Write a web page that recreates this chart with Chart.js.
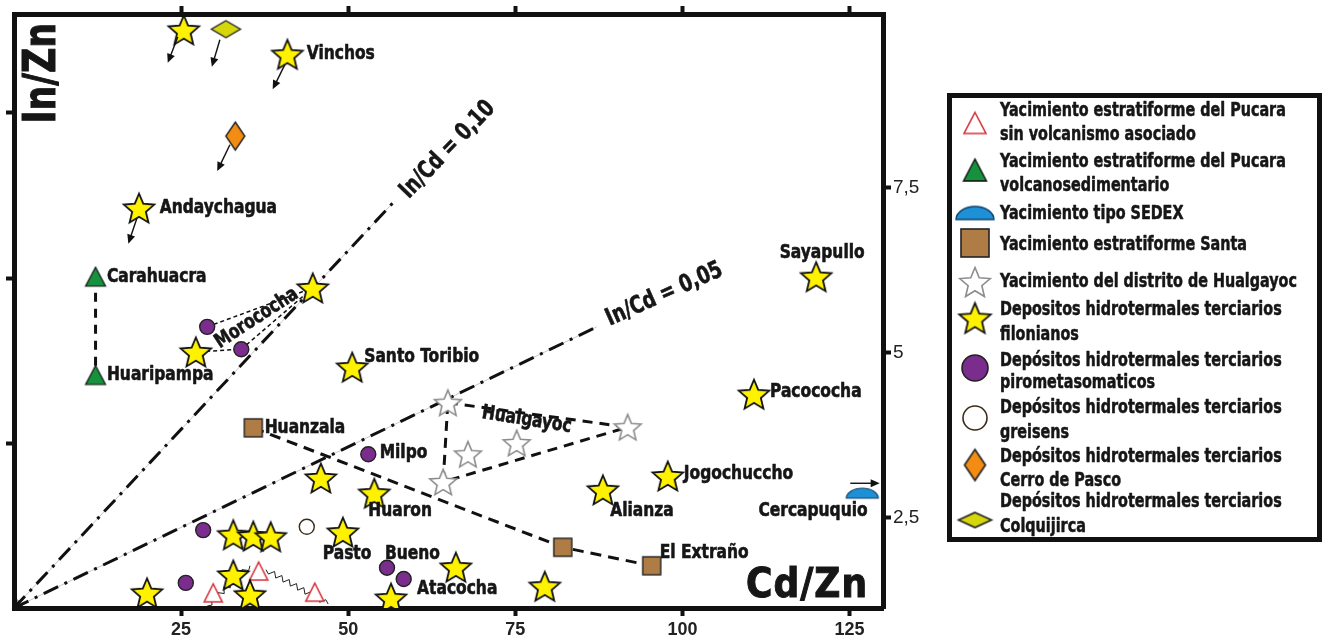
<!DOCTYPE html>
<html><head><meta charset="utf-8">
<script src="https://cdn.jsdelivr.net/npm/chart.js@4"></script>
<style>html,body{margin:0;padding:0;background:#fff}#wrap{width:1325px;height:639px;position:relative}</style>
</head><body><div id="wrap"><canvas id="c" width="1325" height="639"></canvas></div>
<script>
// ---------------- data ----------------
const xTicks = [25, 50, 75, 100, 125];
const yTicksLeft = [2.5, 5, 7.5];
const yTicksRight = [2.5, 5, 7.5];
const yRightLabels = {2.5: '2,5', 5: '5', 7.5: '7,5'};

// Depositos hidrotermales terciarios filonianos
const filonianos = [
  {x:25.4,y:8.76},{x:40.9,y:8.39},{x:18.7,y:6.06},{x:44.7,y:4.85},{x:27.2,y:3.88},
  {x:50.6,y:3.65},{x:45.9,y:1.97},{x:53.9,y:1.74},{x:32.8,y:1.11},{x:35.8,y:1.09},
  {x:38.4,y:1.08},{x:49.2,y:1.15},{x:32.8,y:0.50},{x:19.9,y:0.23},{x:35.3,y:0.20},
  {x:56.4,y:0.15},{x:66.1,y:0.62},{x:79.4,y:0.33},{x:88.1,y:1.79},{x:97.8,y:2.00},
  {x:110.7,y:3.24},{x:120.0,y:5.02}
];
// pirometasomaticos
const pirometasomaticos = [
  {x:28.9,y:4.26},{x:34.0,y:3.92},{x:53.0,y:2.33},{x:28.3,y:1.18},{x:25.7,y:0.38},{x:55.8,y:0.61},{x:58.3,y:0.44}
];
const greisens = [{x:43.8,y:1.23}];
const pucaraSinVolc = [{x:29.8,y:0.23},{x:36.6,y:0.56},{x:45.0,y:0.24}];
const pucaraVolcano = [{x:12.2,y:5.02},{x:12.2,y:3.53}];
const sedex = [{x:126.9,y:1.74}];
const santa = [{x:35.8,y:2.73},{x:82.1,y:0.92},{x:95.4,y:0.64}];
const hualgayoc = [{x:64.9,y:3.11},{x:91.8,y:2.74},{x:75.2,y:2.50},{x:67.9,y:2.33},{x:64.2,y:1.91}];
const cerroDePasco = [{x:33.1,y:7.15}];
const colquijirca = [{x:31.7,y:8.77}];

// reference lines In/Cd (from origin to the label)
const inCd010 = [{x:0,y:0},{x:56.7,y:6.14}];
const inCd005 = [{x:0,y:0},{x:87.2,y:4.26}];

// connecting lines
const volcanoLink = [pucaraVolcano[0], pucaraVolcano[1]];
const santaLink = [santa[0], santa[1], santa[2]];
const hualgayocLink = [hualgayoc[0], hualgayoc[1], hualgayoc[4], hualgayoc[0]];
const morocochaLink = [pirometasomaticos[0], filonianos[3], pirometasomaticos[1], filonianos[4]];
const zigzagLinks = [[{x:28.9,y:0.03},{x:35.3,y:0.64}],[{x:37.7,y:0.58},{x:47.0,y:0.06}]];

// upper-limit arrows (data units)
const limitArrows = [
  {from:{x:24.5,y:8.65}, to:{x:23.0,y:8.26}},
  {from:{x:30.8,y:8.61}, to:{x:29.6,y:8.20}},
  {from:{x:40.5,y:8.23}, to:{x:38.7,y:7.86}},
  {from:{x:32.3,y:7.02}, to:{x:30.4,y:6.62}},
  {from:{x:18.4,y:5.91}, to:{x:17.1,y:5.52}},
  {from:{x:125.1,y:1.89}, to:{x:129.5,y:1.89}}
];

// place-name labels anchored in data units
const placeLabels = [
  {t:'Vinchos', x:43.8, y:8.39, a:'left'},
  {t:'Andaychagua', x:21.8, y:6.06, a:'left'},
  {t:'Carahuacra', x:13.9, y:5.02, a:'left'},
  {t:'Huaripampa', x:13.9, y:3.53, a:'left'},
  {t:'Santo Toribio', x:52.4, y:3.80, a:'left'},
  {t:'Huanzala', x:37.5, y:2.73, a:'left'},
  {t:'Milpo', x:54.7, y:2.35, a:'left'},
  {t:'Huaron', x:53.0, y:1.47, a:'left'},
  {t:'Pasto', x:46.2, y:0.82, a:'left'},
  {t:'Bueno', x:55.5, y:0.82, a:'left'},
  {t:'Atacocha', x:60.3, y:0.29, a:'left'},
  {t:'Alianza', x:89.2, y:1.47, a:'left'},
  {t:'Jogochuccho', x:100.2, y:2.03, a:'left'},
  {t:'Pacococha', x:113.1, y:3.27, a:'left'},
  {t:'Sayapullo', x:120.9, y:5.38, a:'center'},
  {t:'Cercapuquio', x:127.7, y:1.48, a:'right'},
  {t:'El Extraño', x:96.6, y:0.83, a:'left'},
  {t:'Morococha', x:36.3, y:4.39, a:'center', rot:-33},
  {t:'Hualgayoc', x:76.7, y:2.85, a:'center', rot:9}
];
const lineLabels = [
  {t:'In/Cd = 0,10', x:64.9, y:6.94, rot:-46},
  {t:'In/Cd = 0,05', x:97.3, y:4.75, rot:-24}
];

const legendItems = [
  {icon:'triRed', lines:['Yacimiento estratiforme del Pucara','sin volcanismo asociado']},
  {icon:'triGreen', lines:['Yacimiento estratiforme del Pucara','volcanosedimentario']},
  {icon:'sedex', lines:['Yacimiento tipo SEDEX']},
  {icon:'square', lines:['Yacimiento estratiforme Santa']},
  {icon:'grayStar', lines:['Yacimiento del distrito de Hualgayoc']},
  {icon:'star', lines:['Depositos hidrotermales terciarios','filonianos']},
  {icon:'purple', lines:['Depósitos hidrotermales terciarios','pirometasomaticos']},
  {icon:'white', lines:['Depósitos hidrotermales terciarios','greisens']},
  {icon:'orange', lines:['Depósitos hidrotermales terciarios','Cerro de Pasco']},
  {icon:'yg', lines:['Depósitos hidrotermales terciarios','Colquijirca']}
];

// ---------------- styles ----------------
const NARROW = '"Liberation Sans Narrow","DejaVu Sans Condensed","Arial Narrow",sans-serif';
const C = {
  yellow:'#fff200', purple:'#7b2d8e', green:'#17913e', brown:'#b07c45', blue:'#1e90d6',
  orange:'#f28c12', yg:'#d6d60c', red:'#d8323c', ink:'#161616'
};

function mk(w, h, draw){ const c=document.createElement('canvas'); c.width=w; c.height=h; draw(c.getContext('2d'), w, h); return c; }
function starPath(g, cx, cy, R, ri){ g.beginPath(); for(let i=0;i<10;i++){const r=i%2?ri:R; const a=-Math.PI/2+i*Math.PI/5; g.lineTo(cx+r*Math.cos(a), cy+r*Math.sin(a));} g.closePath(); }
function starImg(R, fill, stroke, lw){ const s=Math.ceil(2*R+lw+4); return mk(s,s,(g,w,h)=>{ starPath(g,w/2,h/2+0.095*R,R,R*0.45); g.fillStyle=fill; g.fill(); g.lineJoin='miter'; g.lineWidth=lw; g.strokeStyle=stroke; g.stroke(); }); }
function triImg(tw, th, fill, stroke, lw){ return mk(Math.ceil(tw+lw+4), Math.ceil(th+lw+4),(g,w,h)=>{ g.beginPath(); g.moveTo(w/2,h/2-th/2); g.lineTo(w/2+tw/2,h/2+th/2); g.lineTo(w/2-tw/2,h/2+th/2); g.closePath(); if(fill){g.fillStyle=fill; g.fill();} g.lineWidth=lw; g.strokeStyle=stroke; g.stroke(); }); }
function diaImg(dw, dh, fill, stroke, lw){ return mk(Math.ceil(dw+lw+4), Math.ceil(dh+lw+4),(g,w,h)=>{ g.beginPath(); g.moveTo(w/2,h/2-dh/2); g.lineTo(w/2+dw/2,h/2); g.lineTo(w/2,h/2+dh/2); g.lineTo(w/2-dw/2,h/2); g.closePath(); g.fillStyle=fill; g.fill(); g.lineWidth=lw; g.strokeStyle=stroke; g.stroke(); }); }
function sqImg(s, fill, stroke, lw){ return mk(Math.ceil(s+lw+4), Math.ceil(s+lw+4),(g,w,h)=>{ g.fillStyle=fill; g.fillRect(w/2-s/2,h/2-s/2,s,s); g.lineWidth=lw; g.strokeStyle=stroke; g.strokeRect(w/2-s/2,h/2-s/2,s,s); }); }
function domeImg(dw, dh, fill, stroke, lw){ return mk(Math.ceil(dw+lw+4), Math.ceil(dh+lw+4),(g,w,h)=>{ g.beginPath(); g.ellipse(w/2,h/2+dh/2,dw/2,dh,0,Math.PI,2*Math.PI); g.closePath(); g.fillStyle=fill; g.fill(); g.lineWidth=lw; g.strokeStyle=stroke; g.stroke(); }); }
function circImg(r, fill, stroke, lw){ const s=Math.ceil(2*r+lw+4); return mk(s,s,(g,w,h)=>{ g.beginPath(); g.arc(w/2,h/2,r,0,2*Math.PI); g.fillStyle=fill; g.fill(); g.lineWidth=lw; g.strokeStyle=stroke; g.stroke(); }); }

const IMG = {
  star: starImg(16, C.yellow, '#111', 1.8),
  grayStar: starImg(14, '#fff', '#8c8c8c', 1.6),
  triRed: triImg(18, 18, '#fff', C.red, 1.6),
  triGreen: triImg(20, 19, C.green, '#111', 1.2),
  square: sqImg(18, C.brown, '#222', 1.4),
  sedex: domeImg(32, 10, C.blue, '#0d3f6b', 1.2),
  orange: diaImg(19, 28, C.orange, '#222', 1.4),
  yg: diaImg(29, 17, C.yg, '#222', 1.4)
};
const LEG = {
  triRed: triImg(22, 21, null, C.red, 1.6),
  triGreen: triImg(23, 22, C.green, '#111', 1.4),
  sedex: domeImg(38, 13, C.blue, '#0d3f6b', 1.4),
  square: sqImg(28, C.brown, '#222', 1.6),
  grayStar: starImg(16, '#fff', '#8c8c8c', 1.6),
  star: starImg(16.5, C.yellow, '#111', 1.8),
  purple: circImg(13, C.purple, '#222', 1.6),
  white: circImg(12, '#fff', '#3a2a1a', 1.6),
  orange: diaImg(21, 31, C.orange, '#222', 1.6),
  yg: diaImg(33, 15, C.yg, '#222', 1.6)
};
const LEG_Y = [[111,135,123],[162,186,170],[214,null,213],[245,null,243],[282,null,282],[310,335,318],[361,383,368],[408,433,418],[457,481,465],[502,527,520]];

function marker(label, data, img, extra){ return Object.assign({label, data, pointStyle:img, pointRadius:10, showLine:false, order:0, xAxisID:'x', yAxisID:'y'}, extra||{}); }
function link(data, dash, width, color, order){ return {label:'', data, showLine:true, pointRadius:0, borderColor:color||'#111', borderWidth:width, borderDash:dash, fill:false, order:order||5, xAxisID:'x', yAxisID:'y', tension:0}; }

const datasets = [
  marker('Depositos hidrotermales terciarios filonianos', filonianos, IMG.star),
  marker('Yacimiento estratiforme del Pucara volcanosedimentario', pucaraVolcano, IMG.triGreen, {order:1}),
  marker('Yacimiento estratiforme del Pucara sin volcanismo asociado', pucaraSinVolc, IMG.triRed, {order:2}),
  marker('Depósitos hidrotermales terciarios pirometasomaticos', pirometasomaticos, 'circle', {pointRadius:7.5, backgroundColor:C.purple, borderColor:'#222', borderWidth:1.4, order:1}),
  marker('Depósitos hidrotermales terciarios greisens', greisens, 'circle', {pointRadius:7.5, backgroundColor:'#fff', borderColor:'#3a2a1a', borderWidth:1.4, order:1}),
  marker('Yacimiento tipo SEDEX', sedex, IMG.sedex, {order:1}),
  marker('Yacimiento estratiforme Santa', santa, IMG.square, {order:1}),
  marker('Yacimiento del distrito de Hualgayoc', hualgayoc, IMG.grayStar, {order:1}),
  marker('Depósitos hidrotermales terciarios Cerro de Pasco', cerroDePasco, IMG.orange, {order:1}),
  marker('Depósitos hidrotermales terciarios Colquijirca', colquijirca, IMG.yg, {order:1}),
  link(volcanoLink, [9,7], 3, '#111', 4),
  link(santaLink, [11,7], 3, '#111', 4),
  link(hualgayocLink, [10,7], 3, '#111', 4),
  link(morocochaLink, [4,3], 1.5, '#111', 4),
  link(inCd010, [16,7,3,7], 3, '#111', 6),
  link(inCd005, [16,7,3,7], 3, '#111', 6),
  link(inCd010, [], 1, '#c8c8c8', 7),
  link(inCd005, [], 1, '#c8c8c8', 7)
];

function arrow(ctx, x0, y0, x1, y1, head, lw){
  const a = Math.atan2(y1-y0, x1-x0);
  ctx.save(); ctx.strokeStyle='#111'; ctx.fillStyle='#111'; ctx.lineWidth=lw;
  ctx.beginPath(); ctx.moveTo(x0,y0); ctx.lineTo(x1-Math.cos(a)*head*0.7, y1-Math.sin(a)*head*0.7); ctx.stroke();
  ctx.beginPath(); ctx.moveTo(x1,y1);
  ctx.lineTo(x1-head*Math.cos(a)+head*0.45*Math.sin(a), y1-head*Math.sin(a)-head*0.45*Math.cos(a));
  ctx.lineTo(x1-head*Math.cos(a)-head*0.45*Math.sin(a), y1-head*Math.sin(a)+head*0.45*Math.cos(a));
  ctx.closePath(); ctx.fill(); ctx.restore();
}
// condensed, slightly heavier text: horizontal squeeze of the installed condensed face
function ctext(ctx, s, x, y, align, sx, rotDeg, heavy){
  ctx.save(); ctx.translate(x, y); if(rotDeg) ctx.rotate(rotDeg*Math.PI/180); ctx.scale(sx, 1);
  ctx.textAlign = align; ctx.fillText(s, 0, 0);
  if(heavy){ ctx.lineWidth = heavy; ctx.strokeStyle = ctx.fillStyle; ctx.lineJoin='round'; ctx.strokeText(s, 0, 0); }
  ctx.restore();
}

const decor = {
  id:'decor',
  beforeDatasetsDraw(chart){
    const {ctx, scales:{x, y}} = chart;
    ctx.save(); ctx.strokeStyle='#222'; ctx.lineWidth=1; ctx.lineJoin='miter';
    zigzagLinks.forEach(([p,q])=>{
      const x0=x.getPixelForValue(p.x), y0=y.getPixelForValue(p.y), x1=x.getPixelForValue(q.x), y1=y.getPixelForValue(q.y);
      const L=Math.hypot(x1-x0,y1-y0), n=Math.round(L/4.2), ux=(x1-x0)/L, uy=(y1-y0)/L;
      ctx.beginPath(); ctx.moveTo(x0,y0);
      for(let i=1;i<n;i++){ const t=i/n, s=(i%2?2.6:-2.6); ctx.lineTo(x0+(x1-x0)*t - uy*s, y0+(y1-y0)*t + ux*s); }
      ctx.lineTo(x1,y1); ctx.stroke();
    });
    ctx.restore();
  },
  afterDatasetsDraw(chart){
    const {ctx, chartArea:ca, scales:{x, y}} = chart;
    [inCd010, inCd005].forEach(l=>{
      const x0=x.getPixelForValue(l[1].x), y0=y.getPixelForValue(l[1].y);
      const ox=x.getPixelForValue(l[0].x), oy=y.getPixelForValue(l[0].y);
      const a=Math.atan2(oy-y0, ox-x0);
      ctx.save(); ctx.strokeStyle='#111'; ctx.lineWidth=2.2;
      ctx.beginPath();
      ctx.moveTo(ox-9*Math.cos(a-0.45), oy-9*Math.sin(a-0.45)); ctx.lineTo(ox,oy); ctx.lineTo(ox-9*Math.cos(a+0.45), oy-9*Math.sin(a+0.45));
      ctx.stroke(); ctx.restore();
    });
    limitArrows.forEach(r=>arrow(ctx, x.getPixelForValue(r.from.x), y.getPixelForValue(r.from.y), x.getPixelForValue(r.to.x), y.getPixelForValue(r.to.y), 9, 1.4));
    ctx.save(); ctx.fillStyle=C.ink; ctx.textBaseline='middle';
    ctx.font='bold 20px '+NARROW;
    placeLabels.forEach(l=>ctext(ctx, l.t, x.getPixelForValue(l.x), y.getPixelForValue(l.y), l.a, 0.86, l.rot||0, 0.6));
    ctx.font='bold 24px '+NARROW;
    lineLabels.forEach(l=>ctext(ctx, l.t, x.getPixelForValue(l.x), y.getPixelForValue(l.y), 'center', 0.84, l.rot, 0.6));
    // axis titles
    ctx.textBaseline='alphabetic';
    ctx.font='bold 40px '+NARROW;
    try{ ctx.letterSpacing='1px'; }catch(e){}
    ctx.textAlign='right'; ctx.fillText('Cd/Zn', ca.right-15, ca.bottom-11);
    ctx.lineWidth=1; ctx.strokeStyle=C.ink; ctx.strokeText('Cd/Zn', ca.right-15, ca.bottom-11);
    try{ ctx.letterSpacing='0px'; }catch(e){}
    ctx.font='bold 44px '+NARROW;
    ctx.save(); ctx.translate(ca.left+41, ca.top+9); ctx.rotate(-Math.PI/2); ctx.scale(0.88,1); ctx.textAlign='right'; ctx.fillText('In/Zn',0,0); ctx.lineWidth=1; ctx.strokeText('In/Zn',0,0); ctx.restore();
    ctx.restore();
  },
  afterDraw(chart){
    const ctx = chart.ctx;
    ctx.save();
    ctx.lineWidth=5; ctx.strokeStyle='#111';
    ctx.strokeRect(949.5, 95.5, 370, 444);
    ctx.fillStyle=C.ink; ctx.textBaseline='middle';
    ctx.font='bold 19px '+NARROW;
    legendItems.forEach((it,i)=>{
      const [l1,l2,iy]=LEG_Y[i];
      const im=LEG[it.icon];
      ctx.drawImage(im, 975-im.width/2, iy-im.height/2);
      ctext(ctx, it.lines[0], 1000, l1, 'left', 0.84, 0, 0.5);
      if(it.lines[1]) ctext(ctx, it.lines[1], 1000, l2, 'left', 0.84, 0, 0.5);
    });
    ctx.restore();
  }
};

const tickGrid = {drawOnChartArea:false, drawTicks:true, tickLength:8, tickWidth:4, tickColor:'#111'};
const frame = {display:true, width:5, color:'#111'};
new Chart(document.getElementById('c'), {
  type:'scatter',
  data:{datasets},
  options:{
    responsive:false, animation:false,
    layout:{padding:{left:0, top:0, bottom:0, right:382}},
    plugins:{legend:{display:false}, tooltip:{enabled:false}},
    scales:{
      x:{type:'linear', position:'bottom', min:0, max:130,
         afterFit(s){s.height=31;}, afterBuildTicks(s){s.ticks=xTicks.map(v=>({value:v}));},
         ticks:{font:{family:'"Liberation Sans",Arial,sans-serif', size:18, weight:'bold'}, color:'#222', padding:3, maxRotation:0, autoSkip:false},
         grid:tickGrid, border:frame},
      x2:{type:'linear', position:'top', min:0, max:130,
         afterFit(s){s.height=14;}, afterBuildTicks(s){s.ticks=xTicks.map(v=>({value:v}));},
         ticks:{callback:()=> '', autoSkip:false}, grid:tickGrid, border:frame},
      y:{type:'linear', position:'left', min:0, max:9,
         afterFit(s){s.width=14;}, afterBuildTicks(s){s.ticks=yTicksLeft.map(v=>({value:v}));},
         ticks:{callback:()=> '', autoSkip:false}, grid:tickGrid, border:frame},
      y2:{type:'linear', position:'right', min:1.13, max:10.13,
         afterFit(s){s.width=60;}, afterBuildTicks(s){s.ticks=yTicksRight.map(v=>({value:v}));},
         ticks:{callback:v=>yRightLabels[v], font:{family:'"Liberation Sans",Arial,sans-serif', size:19}, color:'#222', padding:2, autoSkip:false},
         grid:tickGrid, border:frame}
    }
  },
  plugins:[decor]
});
</script></body></html>
